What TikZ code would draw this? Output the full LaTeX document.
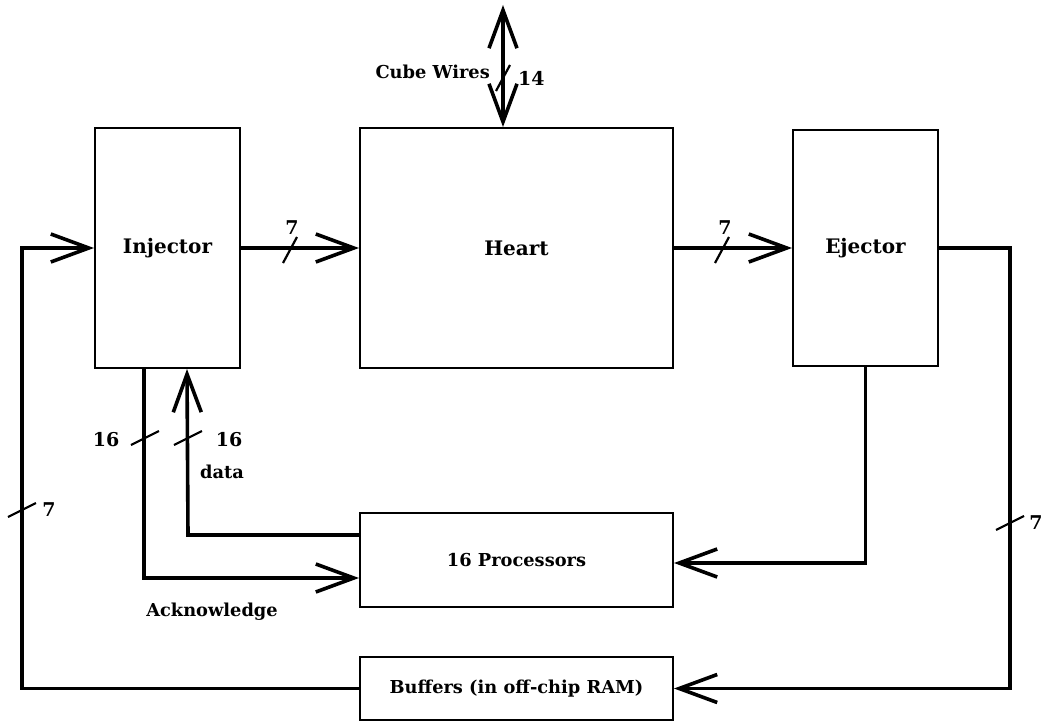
\documentclass[tikz,border=0pt]{standalone}
\usepackage{fontspec}
\setmainfont{DejaVu Serif}
\usetikzlibrary{arrows.meta,calc}
\begin{document}
\begin{tikzpicture}[x=1pt,y=-1pt,
  box/.style={draw,line width=2pt,inner sep=0pt,font=\bfseries\fontsize{20}{22}\selectfont},
  sbox/.style={box,font=\bfseries\fontsize{17.8}{20}\selectfont},
  conn/.style={line width=3.6pt,line join=miter,-{Straight Barb[length=38pt,width=28pt]}},
  lbl/.style={font=\bfseries\fontsize{19}{21}\selectfont,inner sep=0pt},
  slab/.style={font=\bfseries\fontsize{17.8}{20}\selectfont,inner sep=0pt},
  hslash/.pic={\draw[line width=2.2pt] (-7,13) -- (7,-13);},
  vslash/.pic={\draw[line width=2.2pt] (-14,7) -- (14,-7);}]
\useasboundingbox (0,0) rectangle (1045,728);
\node[box,minimum width=145pt,minimum height=240pt] (inj) at (167.5,248) {Injector};
\node[box,minimum width=313pt,minimum height=240pt] (heart) at (516.5,248) {Heart};
\node[box,minimum width=145pt,minimum height=236pt] (ej) at (865.5,248) {Ejector};
\node[sbox,minimum width=313pt,minimum height=94pt] (proc) at (516.5,560) {16 Processors};
\node[sbox,minimum width=313pt,minimum height=63pt] (buf) at (516.5,688.5) {Buffers (in off-chip RAM)};
% cube wires
\coordinate (cwtop) at (503,5);
\draw[line width=3.6pt,{Straight Barb[length=38pt,width=28pt]}-{Straight Barb[length=38pt,width=28pt]}] ($(heart.north)+(-13.5,0)$) -- (cwtop);
\pic at (503,78) {hslash};
\node[slab,anchor=east] (cwl) at (490,72) {Cube Wires};
\node[lbl,anchor=west] (cw14) at (518,78) {14};
% injector -> heart
\draw[conn] (inj.east) -- (heart.west);
\pic at (290,250) {hslash};
\node[lbl] (l7a) at (292,228) {7};
% heart -> ejector
\draw[conn] (heart.east) -- (ej.west);
\pic at (722,250) {hslash};
\node[lbl] (l7b) at (725,228) {7};
% ejector -> buffers
\coordinate (er) at (1010,248);
\draw[conn] (ej.east) -- (er) |- (buf.east);
\pic at (1010,523) {vslash};
\node[lbl] (l7c) at (1036,523) {7};
% buffers -> injector
\coordinate (bl) at (22,688.5);
\draw[conn] (buf.west) -- (bl) |- (inj.west);
\pic at (22,510) {vslash};
\node[lbl] (l7d) at (49,510) {7};
% acknowledge
\draw[conn] ($(inj.south west)+(50,0)$) |- ($(proc.west)+(0,18)$);
\pic at (145,438) {vslash};
\node[lbl] (l16a) at (106,440) {16};
\node[slab] (ack) at (212,612) {Acknowledge};
% data
\coordinate (dc) at (188,535);
\draw[conn] ($(proc.west)+(0,-25)$) -- (dc) -- ($(inj.south west)+(93,0)$);
\pic at (188,438) {vslash};
\node[lbl] (l16b) at (229,440) {16};
\node[slab] (data) at (222,472) {data};
% ejector -> processors
\draw[conn] (ej.south) |- ($(proc.east)+(0,3)$);
\end{tikzpicture}
\end{document}
